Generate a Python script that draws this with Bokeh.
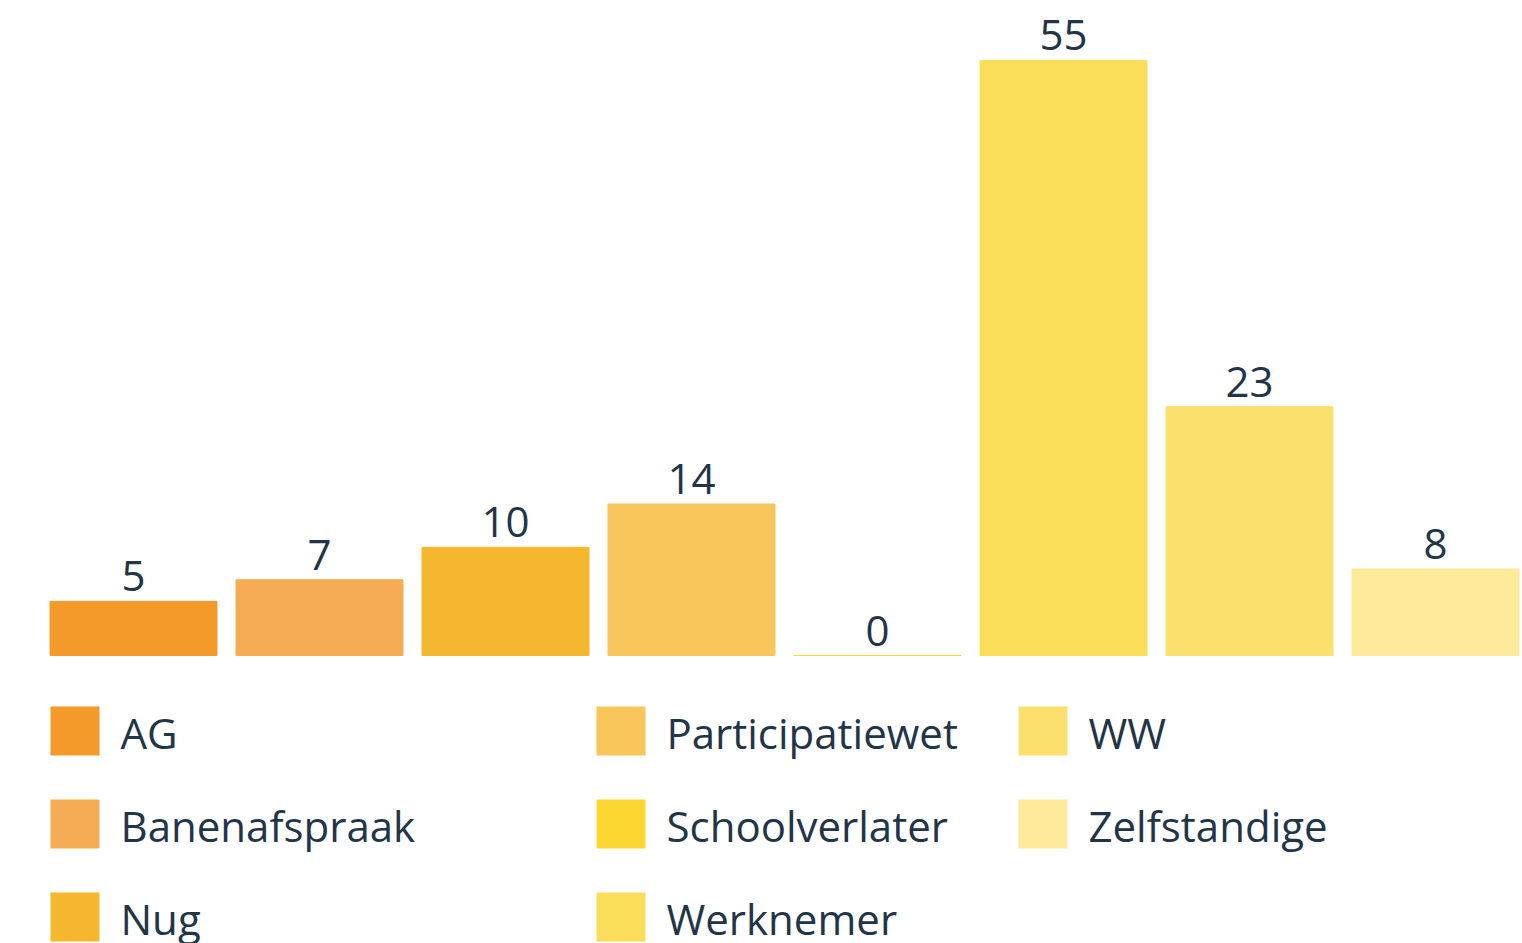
from bokeh.plotting import figure
from bokeh.layouts import column
from bokeh.models import Range1d, ColumnDataSource
from bokeh.core.properties import value
from bokeh.embed import file_html
from bokeh.resources import INLINE

categories = ["AG", "Banenafspraak", "Nug", "Participatiewet", "Schoolverlater",
              "Werknemer", "WW", "Zelfstandige"]
counts = [5, 7, 10, 14, 0, 55, 23, 8]
colors = ["#F39A2B", "#F5AC55", "#F5B72E", "#F7C55A", "#FBD730",
          "#FADE5A", "#FCE06E", "#FCE999"]

FONT = value("Open Sans")
TXT = "#223548"
W = 1522
H = 943

# ---------------- bar chart ----------------
H1 = 680
px_x = 186.0
px_y = 10.82
x0 = -133 / px_x
y0 = -(H1 - 655) / px_y
p = figure(width=W, height=H1, output_backend="svg", toolbar_location=None,
           x_range=Range1d(x0, x0 + W / px_x), y_range=Range1d(y0, y0 + H1 / px_y),
           min_border=0, min_border_left=0, min_border_right=0,
           min_border_top=0, min_border_bottom=0)
p.axis.visible = False
p.grid.visible = False
p.outline_line_color = None
p.background_fill_color = "white"
p.border_fill_color = "white"

src = ColumnDataSource(dict(x=list(range(len(categories))), top=counts,
                            color=colors, label=[str(v) for v in counts],
                            cat=categories))
p.vbar(x="x", top="top", bottom=0, width=167 / px_x, fill_color="color",
       line_color="color", line_width=1, source=src)
p.text(x="x", y="top", text="label", source=src, text_align="center",
       text_baseline="alphabetic", y_offset=-25, text_font=FONT,
       text_font_size="42px", text_color=TXT)

# ---------------- legend ----------------
H2 = H - H1
q = figure(width=W, height=H2, output_backend="svg", toolbar_location=None,
           x_range=Range1d(0, W), y_range=Range1d(H2, 0),
           min_border=0, min_border_left=0, min_border_right=0,
           min_border_top=0, min_border_bottom=0)
q.axis.visible = False
q.grid.visible = False
q.outline_line_color = None
q.background_fill_color = "white"
q.border_fill_color = "white"

col_left = [50, 596, 1018]
row_center = [730.5 - H1, 823.5 - H1, 916.5 - H1]
sq = 49
lx, ly, tx, ty = [], [], [], []
for i, c in enumerate(categories):
    ci, ri = divmod(i, 3)
    lx.append(col_left[ci] + sq / 2)
    ly.append(row_center[ri])
    tx.append(col_left[ci] + 70)
    ty.append(row_center[ri] + 1)
lsrc = ColumnDataSource(dict(x=lx, y=ly, tx=tx, ty=ty, color=colors, cat=categories))
q.rect(x="x", y="y", width=sq, height=sq, fill_color="color", line_color=None, source=lsrc)
q.text(x="tx", y="ty", text="cat", source=lsrc, text_align="left",
       text_baseline="alphabetic", text_font=FONT, text_font_size="42px", text_color=TXT)

layout = column(p, q, spacing=0)
open("out.html", "w").write(file_html(layout, INLINE))
